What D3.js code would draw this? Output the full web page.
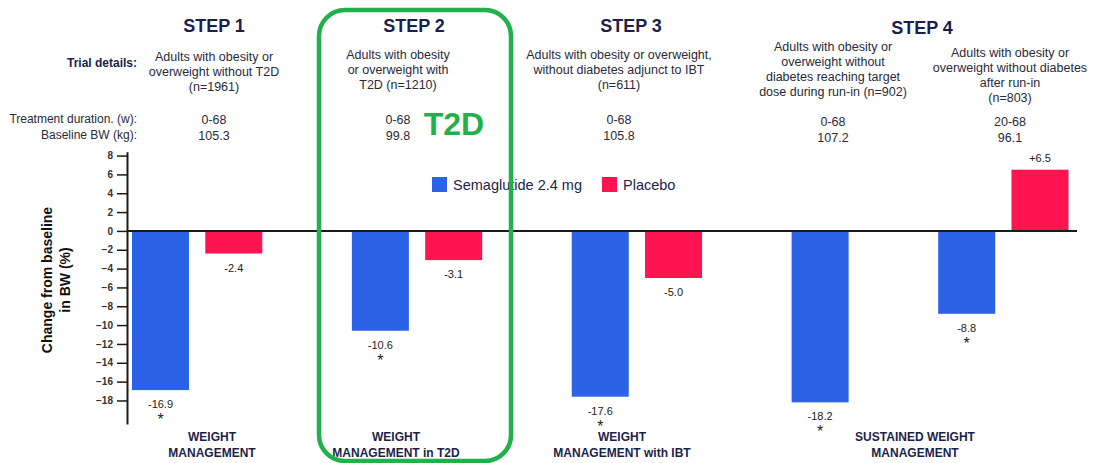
<!DOCTYPE html>
<html>
<head>
<meta charset="utf-8">
<script src="https://cdn.jsdelivr.net/npm/d3@7"></script>
<style>
  body { margin: 0; background: #fff; }
  text { font-family: "Liberation Sans", Arial, sans-serif; }
</style>
</head>
<body>
<div id="chart"></div>
<script>
// data
var groups = ["STEP 1", "STEP 2", "STEP 3", "STEP 4a", "STEP 4b"];
var semaValues = [-16.9, -10.6, -17.6, -18.2, -8.8];
var placeboValues = [-2.4, -3.1, -5.0, null, 6.5];
var semaLabels = ["-16.9", "-10.6", "-17.6", "-18.2", "-8.8"];
var placeboLabels = ["-2.4", "-3.1", "-5.0", null, "+6.5"];
var significant = [true, true, true, true, true];
var seriesNames = ["Semaglutide 2.4 mg", "Placebo"];
var yTicks = [8, 6, 4, 2, 0, -2, -4, -6, -8, -10, -12, -14, -16, -18];

var stepTitles = ["STEP 1", "STEP 2", "STEP 3", "STEP 4"];
var trialDetails = [
  ["Adults with obesity or", "overweight without T2D", "(n=1961)"],
  ["Adults with obesity", "or overweight with", "T2D (n=1210)"],
  ["Adults with obesity or overweight,", "without diabetes adjunct to IBT", "(n=611)"],
  ["Adults with obesity or", "overweight without", "diabetes reaching target", "dose during run-in (n=902)"],
  ["Adults with obesity or", "overweight without diabetes", "after run-in", "(n=803)"]
];
var durations = ["0-68", "0-68", "0-68", "0-68", "20-68"];
var baselineBW = ["105.3", "99.8", "105.8", "107.2", "96.1"];
var categoryLabels = [
  ["WEIGHT", "MANAGEMENT"],
  ["WEIGHT", "MANAGEMENT in T2D"],
  ["WEIGHT", "MANAGEMENT with IBT"],
  ["SUSTAINED WEIGHT", "MANAGEMENT"]
];

// layout
var w = 1097, h = 463;
var blue = "#2c62e6", red = "#fd1450", navy = "#1c1f4a", green = "#22b04b";
var axisX = 127;

// one slot per bar, plus an empty slot after each trial (not after the last)
var slots = [];
groups.forEach(function(g, i) {
  slots.push(g + "|sema");
  if (placeboValues[i] !== null) slots.push(g + "|pbo");
  if (i < groups.length - 1) slots.push(g + "|gap");
});

var x = d3.scaleBand()
  .domain(slots)
  .range([132, 1068.5])
  .paddingInner(0.222)
  .paddingOuter(0);

var y = d3.scaleLinear()
  .domain([-20.5, 8.4])
  .range([424, 151.8]);

var svg = d3.select("#chart").append("svg")
  .attr("width", w)
  .attr("height", h);

// header texts, columns per trial
var titleX = [214, 414, 631, 922];
var colX = [214, 398, 619, 833, 1010];
var detailTop = [57, 55, 55, 47, 53];

svg.selectAll(".steptitle")
  .data(stepTitles)
  .enter().append("text")
  .attr("x", function(d, i) { return titleX[i]; })
  .attr("y", function(d, i) { return i === 3 ? 34 : 32; })
  .attr("text-anchor", "middle")
  .attr("font-size", 18)
  .attr("font-weight", "bold")
  .attr("fill", navy)
  .text(function(d) { return d; });

svg.append("text")
  .attr("x", 137).attr("y", 67)
  .attr("text-anchor", "end")
  .attr("font-size", 12).attr("font-weight", "bold")
  .attr("fill", navy)
  .text("Trial details:");

svg.append("text")
  .attr("x", 137).attr("y", 123)
  .attr("text-anchor", "end")
  .attr("font-size", 12)
  .attr("fill", "#2a2a3a")
  .text("Treatment duration. (w):");

svg.append("text")
  .attr("x", 137).attr("y", 139)
  .attr("text-anchor", "end")
  .attr("font-size", 12)
  .attr("fill", "#2a2a3a")
  .text("Baseline BW (kg):");

trialDetails.forEach(function(lines, i) {
  svg.append("text")
    .attr("text-anchor", "middle")
    .attr("font-size", 12.5)
    .attr("fill", "#2a2a3a")
    .selectAll("tspan")
    .data(lines)
    .enter().append("tspan")
    .attr("x", colX[i])
    .attr("y", function(d, j) { return detailTop[i] + 4 + j * 15; })
    .text(function(d) { return d; });

  var vy = i >= 3 ? 126 : 124;
  svg.append("text")
    .attr("x", colX[i]).attr("y", vy)
    .attr("text-anchor", "middle").attr("font-size", 12.5)
    .attr("fill", "#2a2a3a")
    .text(durations[i]);
  svg.append("text")
    .attr("x", colX[i]).attr("y", vy + 16)
    .attr("text-anchor", "middle").attr("font-size", 12.5)
    .attr("fill", "#2a2a3a")
    .text(baselineBW[i]);
});

// y axis
var yAxis = d3.axisLeft(y)
  .tickValues(yTicks)
  .tickSize(10)
  .tickSizeOuter(0)
  .tickPadding(4)
  .tickFormat(d3.format("d"));

var gy = svg.append("g")
  .attr("transform", "translate(" + axisX + ",0)")
  .call(yAxis);
gy.select(".domain").attr("stroke", "#1a1a1a").attr("stroke-width", 2);
gy.selectAll(".tick line").attr("stroke", "#1a1a1a").attr("stroke-width", 1.5);
gy.selectAll(".tick text")
  .attr("font-size", 10).attr("font-weight", "bold")
  .attr("fill", "#333")
  .attr("font-family", "Liberation Sans, Arial, sans-serif");

svg.append("text")
  .attr("transform", "translate(0,280) rotate(-90)")
  .attr("text-anchor", "middle")
  .attr("font-size", 14).attr("font-weight", "bold")
  .attr("fill", "#111")
  .selectAll("tspan")
  .data(["Change from baseline", "in BW (%)"])
  .enter().append("tspan")
  .attr("x", 0)
  .attr("y", function(d, i) { return 52 + i * 18; })
  .text(function(d) { return d; });

// bars
var bars = [];
groups.forEach(function(g, i) {
  bars.push({ key: g + "|sema", val: semaValues[i], label: semaLabels[i], star: significant[i], color: blue });
  if (placeboValues[i] !== null)
    bars.push({ key: g + "|pbo", val: placeboValues[i], label: placeboLabels[i], star: false, color: red });
});

svg.selectAll("rect.bar")
  .data(bars)
  .enter().append("rect")
  .attr("class", "bar")
  .attr("x", function(d) { return x(d.key); })
  .attr("y", function(d) { return y(Math.max(0, d.val)); })
  .attr("width", x.bandwidth())
  .attr("height", function(d) { return Math.abs(y(d.val) - y(0)); })
  .attr("fill", function(d) { return d.color; });

svg.selectAll("text.val")
  .data(bars)
  .enter().append("text")
  .attr("class", "val")
  .attr("x", function(d) { return x(d.key) + x.bandwidth() / 2; })
  .attr("y", function(d) { return d.val < 0 ? y(d.val) + 18 : y(d.val) - 8; })
  .attr("text-anchor", "middle")
  .attr("font-size", 11)
  .attr("fill", "#222")
  .text(function(d) { return d.label; });

svg.selectAll("text.star")
  .data(bars.filter(function(d) { return d.star; }))
  .enter().append("text")
  .attr("class", "star")
  .attr("x", function(d) { return x(d.key) + x.bandwidth() / 2; })
  .attr("y", function(d) { return y(d.val) + 35; })
  .attr("text-anchor", "middle")
  .attr("font-size", 16)
  .attr("fill", "#222")
  .text("*");

// zero line
svg.append("line")
  .attr("x1", axisX).attr("x2", 1077)
  .attr("y1", y(0)).attr("y2", y(0))
  .attr("stroke", "#1a1a1a").attr("stroke-width", 2);

// category labels
var catX = [212, 396, 622, 915];
categoryLabels.forEach(function(lines, i) {
  svg.append("text")
    .attr("text-anchor", "middle")
    .attr("font-size", 12).attr("font-weight", "bold")
    .attr("fill", navy)
    .selectAll("tspan")
    .data(lines)
    .enter().append("tspan")
    .attr("x", catX[i])
    .attr("y", function(d, j) { return 441 + j * 15.5; })
    .text(function(d) { return d; });
});

// legend
var legend = svg.append("g");
var legX = [432, 602];
var legColors = [blue, red];
seriesNames.forEach(function(name, i) {
  legend.append("rect")
    .attr("x", legX[i]).attr("y", 177)
    .attr("width", 15).attr("height", 15)
    .attr("fill", legColors[i]);
  legend.append("text")
    .attr("x", legX[i] + 21).attr("y", 190)
    .attr("font-size", 14.5)
    .attr("fill", navy)
    .text(name);
});

// T2D highlight
svg.append("rect")
  .attr("x", 319).attr("y", 10)
  .attr("width", 192).attr("height", 451)
  .attr("rx", 26).attr("ry", 26)
  .attr("fill", "none")
  .attr("stroke", green).attr("stroke-width", 4.5);

svg.append("text")
  .attr("x", 454).attr("y", 135)
  .attr("text-anchor", "middle")
  .attr("font-size", 32).attr("font-weight", "bold")
  .attr("fill", green)
  .text("T2D");
</script>
</body>
</html>
